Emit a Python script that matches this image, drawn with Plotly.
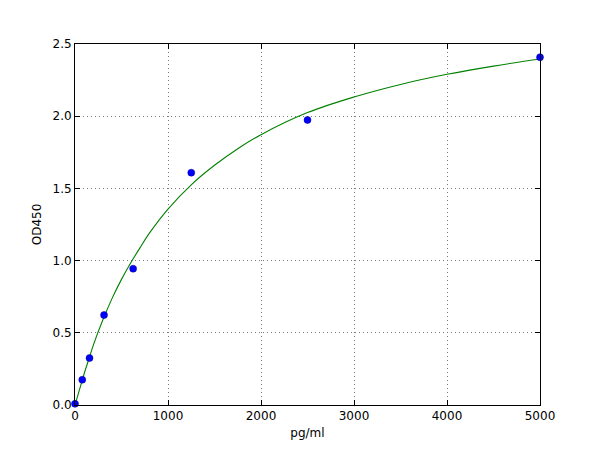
import plotly.graph_objects as go

# Measured standards
conc = [0, 78, 156, 312, 625, 1250, 2500, 5000]
od = [0.008, 0.175, 0.325, 0.623, 0.944, 1.609, 1.974, 2.408]

# Fitted curve
curve_x = [0, 50, 100, 150, 200, 300, 400, 500, 600, 700, 800, 1000, 1250,
           1500, 1750, 2000, 2500, 3000, 3500, 4000, 4500, 5000]
curve_y = [0.0, 0.11, 0.22, 0.32, 0.42, 0.59, 0.74, 0.87, 0.985, 1.09, 1.19,
           1.357, 1.525, 1.66, 1.775, 1.872, 2.025, 2.133, 2.22, 2.29, 2.347, 2.396]

x_ticks = [0, 1000, 2000, 3000, 4000, 5000]
y_ticks = [0.0, 0.5, 1.0, 1.5, 2.0, 2.5]

fig = go.Figure()
fig.add_trace(go.Scatter(x=curve_x, y=curve_y, mode="lines",
                         line=dict(color="#008000", width=1.1, shape="spline"),
                         hoverinfo="skip", cliponaxis=True))
fig.add_trace(go.Scatter(x=conc, y=od, mode="markers",
                         marker=dict(color="#0000ff", size=7,
                                     line=dict(color="#00007f", width=0.5)),
                         cliponaxis=False))

axis_common = dict(
    showline=True, linecolor="black", linewidth=1, mirror="ticks",
    ticks="inside", ticklen=5, tickwidth=1, tickcolor="black",
    showgrid=True, gridcolor="#777777", gridwidth=1, griddash="1px,3px",
    zeroline=False, tickfont=dict(family="DejaVu Sans", size=12, color="black"),
)

fig.update_layout(
    width=600, height=450,
    paper_bgcolor="white", plot_bgcolor="white",
    margin=dict(l=67, r=68, t=36, b=53),
    showlegend=False,
    font=dict(family="DejaVu Sans", size=12, color="black"),
    xaxis=dict(range=[0, 5000], tickvals=x_ticks,
               ticktext=[str(v) for v in x_ticks],
               title=dict(text="pg/ml", standoff=6,
                          font=dict(family="DejaVu Sans", size=12)),
               **axis_common),
    yaxis=dict(range=[0, 2.5], tickvals=y_ticks,
               ticktext=[f"{v:.1f}" for v in y_ticks],
               title=dict(text="OD450", standoff=8,
                          font=dict(family="DejaVu Sans", size=12)),
               **axis_common),
)

fig.write_html("out.html")
